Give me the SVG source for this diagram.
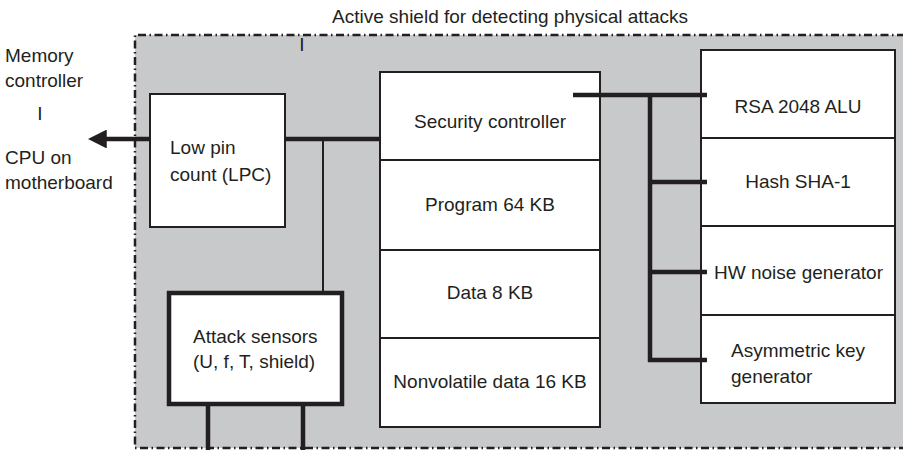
<svg xmlns="http://www.w3.org/2000/svg" width="903" height="450" viewBox="0 0 903 450">
<style>
text{font-family:"Liberation Sans",Arial,sans-serif;font-size:19px;fill:#231f20}
.c{text-anchor:middle}
.box{fill:#fff;stroke:#231f20;stroke-width:2}
.thick{fill:#fff;stroke:#231f20;stroke-width:4.5}
.bus{stroke:#231f20;stroke-width:4.5;fill:none}
.thin{stroke:#231f20;stroke-width:2;fill:none}
.shield{fill:none;stroke:#231f20;stroke-width:2.5;stroke-dasharray:8 3.5 1.5 3.5}
</style>
<defs>
<marker id="ah" viewBox="0 0 10 10" refX="2" refY="5" markerWidth="4.2" markerHeight="4.2" orient="auto" markerUnits="strokeWidth">
<path d="M0,0 L10,5 L0,10 Z" fill="#231f20"/>
</marker>
</defs>
<rect id="shield-area" x="135" y="35" width="780" height="413" fill="#c8c9cb"/>
<path class="shield" d="M905,35 H135 V448 H905"/>
<text class="c" x="510" y="23">Active shield for detecting physical attacks</text>
<text x="302" y="51" class="c">I</text>
<g id="external">
<text x="5" y="62">Memory</text>
<text x="5" y="87">controller</text>
<text x="40" y="120" class="c">I</text>
<text x="5" y="164">CPU on</text>
<text x="5" y="189">motherboard</text>
</g>
<g id="lpc">
<rect class="box" x="150" y="94" width="135" height="133"/>
<text x="170" y="154">Low pin</text>
<text x="170" y="181">count (LPC)</text>
</g>
<g id="attack-sensors">
<rect class="thick" x="169" y="293" width="173" height="111"/>
<text x="193" y="343">Attack sensors</text>
<text x="193" y="368">(U, f, T, shield)</text>
</g>
<g id="security-controller">
<rect class="box" x="380" y="72" width="220" height="88"/>
<text class="c" x="490" y="128">Security controller</text>
</g>
<g id="program">
<rect class="box" x="380" y="160" width="220" height="90"/>
<text class="c" x="490" y="211">Program 64 KB</text>
</g>
<g id="data">
<rect class="box" x="380" y="250" width="220" height="88"/>
<text class="c" x="490" y="299">Data 8 KB</text>
</g>
<g id="nonvolatile">
<rect class="box" x="380" y="338" width="220" height="89"/>
<text class="c" x="490" y="388">Nonvolatile data 16 KB</text>
</g>
<g id="rsa">
<rect class="box" x="701" y="50" width="194" height="88"/>
<text class="c" x="798" y="113">RSA 2048 ALU</text>
</g>
<g id="hash">
<rect class="box" x="701" y="138" width="194" height="88"/>
<text class="c" x="798" y="188">Hash SHA-1</text>
</g>
<g id="hw-noise">
<rect class="box" x="701" y="226" width="194" height="89"/>
<text x="714" y="279">HW noise generator</text>
</g>
<g id="asym-key">
<rect class="box" x="701" y="315" width="194" height="88"/>
<text x="731" y="357">Asymmetric key</text>
<text x="731" y="383">generator</text>
</g>
<g id="connectors">
<line class="bus" x1="150" y1="139" x2="103" y2="139" marker-end="url(#ah)"/>
<line class="bus" x1="285" y1="139" x2="380" y2="139"/>
<line class="thin" x1="323" y1="139" x2="323" y2="292"/>
<line class="bus" x1="208" y1="405" x2="208" y2="450"/>
<line class="bus" x1="303" y1="405" x2="303" y2="450"/>
<line class="bus" x1="573" y1="95" x2="707" y2="95"/>
<line class="bus" x1="650" y1="95" x2="650" y2="362"/>
<line class="bus" x1="648" y1="182" x2="707" y2="182"/>
<line class="bus" x1="648" y1="272" x2="707" y2="272"/>
<line class="bus" x1="648" y1="360" x2="707" y2="360"/>
</g>
</svg>
